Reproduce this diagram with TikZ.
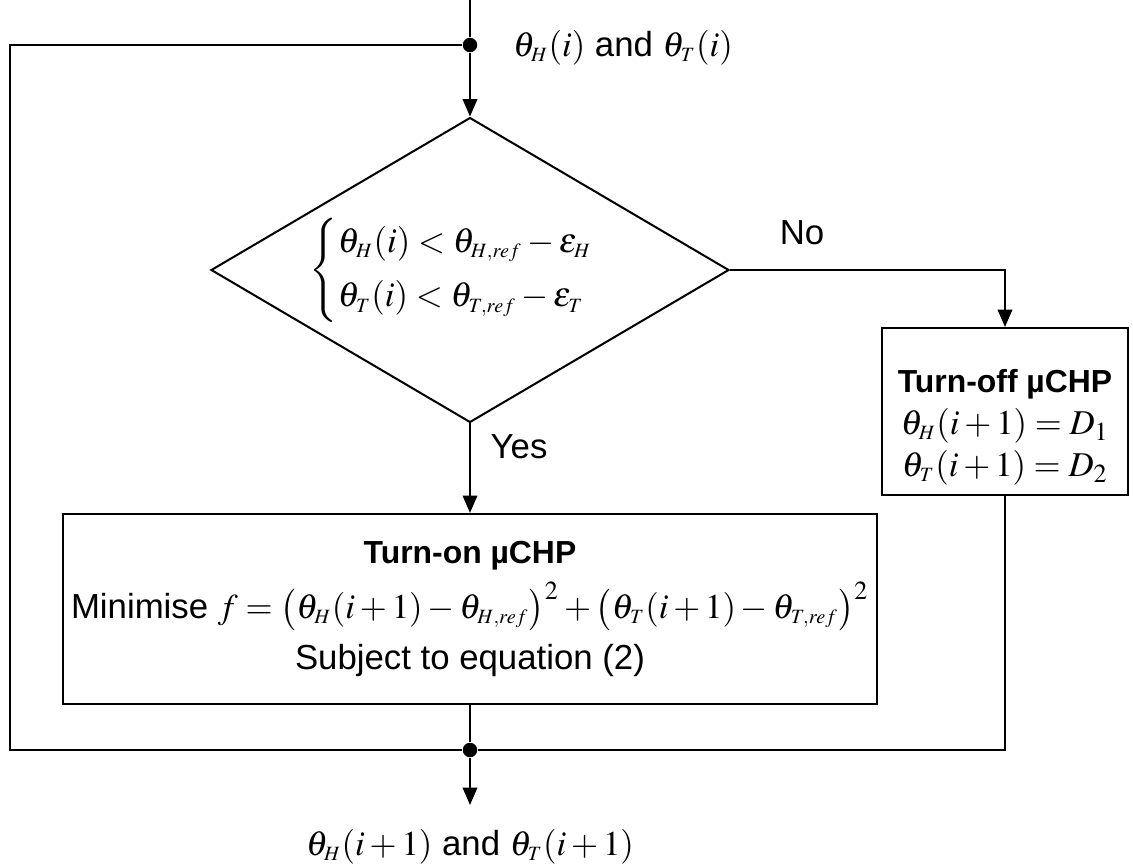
\documentclass[tikz,border=0pt]{standalone}
\usepackage{amsmath}
\usepackage{mathptmx}
\usepackage[no-math]{fontspec}
\setmainfont{Liberation Sans}
\usetikzlibrary{shapes.geometric,arrows.meta}

% 小号下标
\newcommand{\thH}{\theta_{\scriptscriptstyle H}}
\newcommand{\thT}{\theta_{\scriptscriptstyle T}}
\newcommand{\thHr}{\theta_{\scriptscriptstyle H,ref}}
\newcommand{\thTr}{\theta_{\scriptscriptstyle T,ref}}

\begin{document}
\begin{tikzpicture}[
    x=0.345pt, y=-0.345pt,
    line width=0.7pt,
    font=\fontsize{12pt}{14.5pt}\selectfont,
    % 流程箭头
    flowArrow/.style={-{Triangle[length=6pt,width=5pt]}},
    % 判断框
    decisionNode/.style={diamond, draw, aspect=1.7, inner sep=0pt,
        minimum width=178.7pt, minimum height=105.2pt},
    actionBox/.style={rectangle, draw, align=center, inner sep=0pt},
    headText/.style={font=\fontsize{11pt}{14pt}\selectfont\bfseries},
    joinDot/.style={circle, fill=black, inner sep=0pt, minimum size=5pt},
    labelText/.style={inner sep=0pt}
]
    \useasboundingbox (0,0) rectangle (1133,864);

    % 输入
    \coordinate (inTop) at (470,0);
    \node[joinDot] (joinIn) at (470,45) {};
    \node[labelText, anchor=west] (inLabel) at (512,48) {$\thH(i)$ and $\thT(i)$};

    % 判断
    \node[decisionNode] (check) at (470,270)
        {\large$\begin{cases}
            \thH(i)<\thHr-\varepsilon_{\scriptscriptstyle H}\\[2pt]
            \thT(i)<\thTr-\varepsilon_{\scriptscriptstyle T}
        \end{cases}$};

    % 两个分支
    \node[actionBox, minimum width=84.9pt, minimum height=57.6pt] (turnOff) at (1005,411.5)
        {\rule{0pt}{19pt}{\fontsize{11pt}{14pt}\selectfont\bfseries Turn-off µCHP}\\[0pt]
         $\thH(i+1)=D_1$\\[0pt]
         $\thT(i+1)=D_2$};
    \node[actionBox, minimum width=280.5pt, minimum height=65.6pt] (turnOn) at (470,609)
        {{\fontsize{11pt}{14pt}\selectfont\bfseries Turn-on µCHP}\\[3pt]
         Minimise $f=\bigl(\thH(i+1)-\thHr\bigr)^2+\bigl(\thT(i+1)-\thTr\bigr)^2$\\[3pt]
         Subject to equation (2)};

    \node[labelText] (noLabel) at (802,233) {No};
    \node[labelText] (yesLabel) at (519,447) {Yes};

    % 输出
    \node[joinDot] (joinOut) at (470,750) {};
    \coordinate (outTip) at (470,805);
    \node[labelText] (outLabel) at (470,847) {$\thH(i+1)$ and $\thT(i+1)$};

    % 回路
    \coordinate (loopTop) at (10,45);
    \coordinate (loopBot) at (10,750);

    \draw (inTop) -- (joinIn);
    \draw[flowArrow] (joinIn) -- (check.north);
    \draw[flowArrow] (check.east) -| (turnOff.north);
    \draw[flowArrow] (check.south) -- (turnOn.north);
    \draw (turnOn.south) -- (joinOut);
    \draw (turnOff.south) |- (joinOut);
    \draw (joinOut) -- (loopBot) -- (loopTop) -- (joinIn);
    \draw[flowArrow] (joinOut) -- (outTip);
\end{tikzpicture}
\end{document}
